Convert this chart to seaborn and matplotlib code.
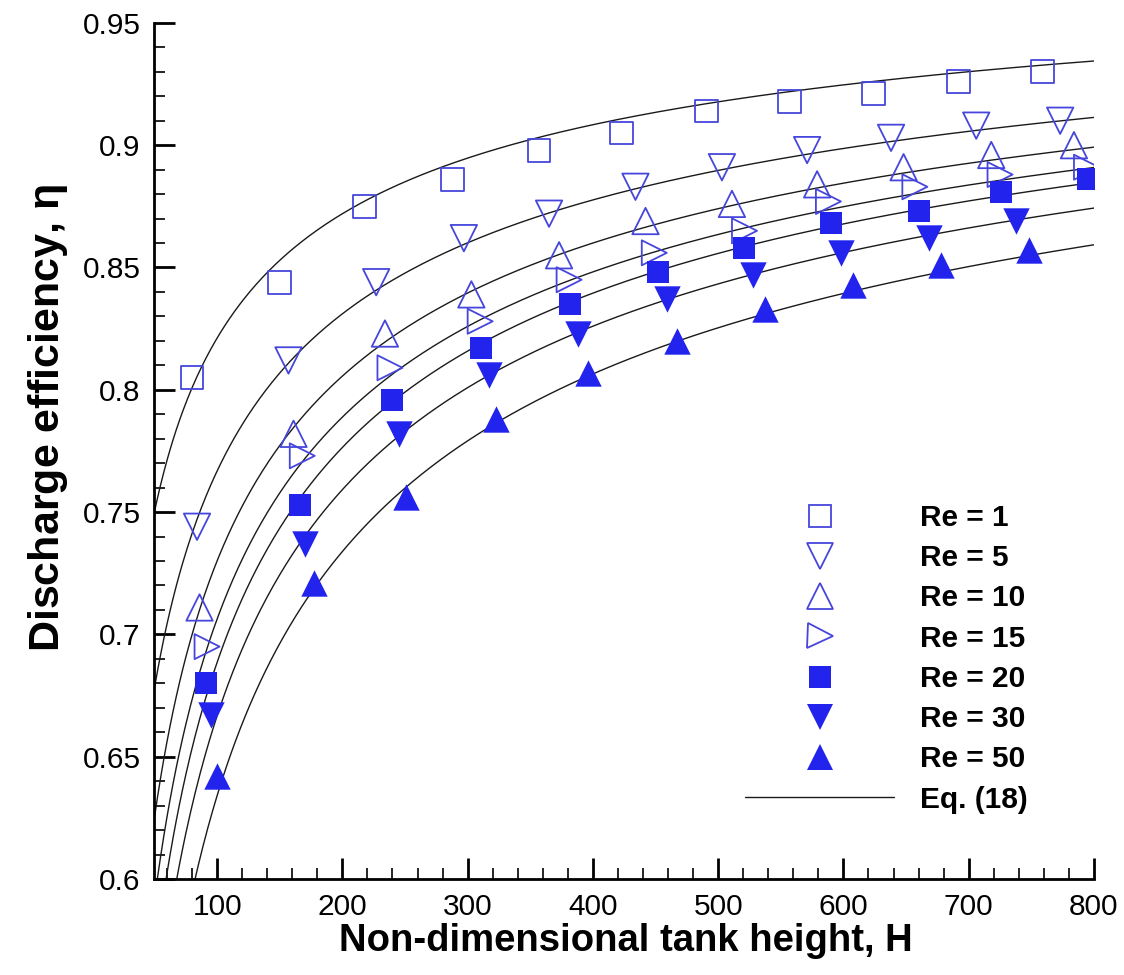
import numpy as np
import pandas as pd
import matplotlib
matplotlib.use("Agg")
import matplotlib.pyplot as plt
from matplotlib.lines import Line2D
from matplotlib.ticker import MultipleLocator
import seaborn as sns

sns.set_theme(style="ticks")
plt.rcParams["font.family"] = ["Liberation Sans", "DejaVu Sans"]
plt.rcParams["text.color"] = "black"
plt.rcParams["axes.labelcolor"] = "black"

# Measured discharge efficiency vs non-dimensional tank height, per Reynolds number
H_re1 = [80, 150, 218, 288, 357, 423, 491, 557, 624, 692, 759]
eta_re1 = [0.805, 0.844, 0.875, 0.886, 0.898, 0.905, 0.914, 0.918, 0.921, 0.926, 0.930]

H_re5 = [84, 157, 227, 297, 365, 434, 503, 571, 638, 706, 773]
eta_re5 = [0.744, 0.812, 0.844, 0.862, 0.872, 0.883, 0.891, 0.898, 0.903, 0.908, 0.910]

H_re10 = [86, 161, 234, 303, 373, 442, 511, 579, 648, 718, 784]
eta_re10 = [0.711, 0.782, 0.823, 0.839, 0.855, 0.869, 0.876, 0.884, 0.891, 0.896, 0.900]

H_re15 = [92, 168, 238, 310, 381, 449, 521, 588, 657, 725, 794]
eta_re15 = [0.695, 0.773, 0.809, 0.828, 0.845, 0.856, 0.865, 0.877, 0.883, 0.888, 0.891]

H_re20 = [91, 166, 240, 311, 382, 452, 521, 590, 660, 726, 795]
eta_re20 = [0.680, 0.753, 0.796, 0.817, 0.835, 0.848, 0.858, 0.868, 0.873, 0.881, 0.886]

H_re30 = [95, 170, 245, 317, 388, 459, 528, 598, 668, 738]
eta_re30 = [0.667, 0.737, 0.782, 0.806, 0.823, 0.837, 0.847, 0.856, 0.862, 0.869]

H_re50 = [100, 177, 251, 323, 396, 467, 537, 608, 678, 748]
eta_re50 = [0.642, 0.721, 0.756, 0.788, 0.807, 0.820, 0.833, 0.843, 0.851, 0.857]

re_labels = ["Re = 1", "Re = 5", "Re = 10", "Re = 15", "Re = 20", "Re = 30", "Re = 50"]

# Eq. (18): eta = 1 - c * H**(-p), one coefficient pair per Reynolds number
eq_c = [1.651, 1.988, 2.393, 2.634, 2.820, 2.890, 3.040]
eq_p = [0.4826, 0.4653, 0.4738, 0.4763, 0.4784, 0.4690, 0.4597]
eq_label = "Eq. (18)"

series_H = [H_re1, H_re5, H_re10, H_re15, H_re20, H_re30, H_re50]
series_eta = [eta_re1, eta_re5, eta_re10, eta_re15, eta_re20, eta_re30, eta_re50]

BLUE_FILL = "#2323EE"
BLUE_EDGE = "#4646DC"
styles = [
    dict(marker="s", ms=16.5, filled=False),
    dict(marker="v", ms=19, filled=False),
    dict(marker="^", ms=19, filled=False),
    dict(marker=">", ms=18, filled=False),
    dict(marker="s", ms=16, filled=True),
    dict(marker="v", ms=19, filled=True),
    dict(marker="^", ms=19, filled=True),
]

fig = plt.figure(figsize=(11.24, 9.75), dpi=100)
ax = fig.add_axes([0.1374, 0.0985, 0.8359, 0.878])

# Equation curves
H_grid = np.linspace(50, 800, 600)
curve_rows = []
for lab, c, p in zip(re_labels, eq_c, eq_p):
    curve_rows.append(pd.DataFrame({"H": H_grid, "eta": 1 - c * H_grid ** (-p), "Re": lab}))
curves = pd.concat(curve_rows, ignore_index=True)
sns.lineplot(data=curves, x="H", y="eta", units="Re", estimator=None,
             color="#1a1a1a", linewidth=1.0, ax=ax, legend=False)

# Measured points
handles = []
for lab, Hs, etas, st in zip(re_labels, series_H, series_eta, styles):
    df = pd.DataFrame({"H": Hs, "eta": etas})
    sns.scatterplot(data=df, x="H", y="eta", marker=st["marker"], s=st["ms"] ** 2,
                    color=BLUE_FILL, edgecolor=BLUE_FILL if st["filled"] else BLUE_EDGE,
                    linewidth=0.0 if st["filled"] else 1.3, ax=ax, legend=False, zorder=3)
    coll = ax.collections[-1]
    if not st["filled"]:
        coll.set_facecolor("none")
        coll.set_edgecolor(BLUE_EDGE)
    handles.append(Line2D([], [], linestyle="none", marker=st["marker"], markersize=st["ms"],
                          markerfacecolor=BLUE_FILL if st["filled"] else "none",
                          markeredgecolor=BLUE_FILL if st["filled"] else BLUE_EDGE,
                          markeredgewidth=0.0 if st["filled"] else 1.3, label=lab))
handles.append(Line2D([], [], color="#1a1a1a", linewidth=1.0, label=eq_label))

ax.set_xlim(50, 800)
ax.set_ylim(0.6, 0.95)
ax.xaxis.set_major_locator(MultipleLocator(100))
ax.xaxis.set_minor_locator(MultipleLocator(20))
ax.yaxis.set_major_locator(MultipleLocator(0.05))
ax.yaxis.set_minor_locator(MultipleLocator(0.01))
ax.set_yticks([0.6, 0.65, 0.7, 0.75, 0.8, 0.85, 0.9, 0.95])
ax.set_yticklabels(["0.6", "0.65", "0.7", "0.75", "0.8", "0.85", "0.9", "0.95"])
ax.set_xticks([100, 200, 300, 400, 500, 600, 700, 800])

sns.despine(ax=ax, top=True, right=True)
for side in ("left", "bottom"):
    ax.spines[side].set_linewidth(2.0)
    ax.spines[side].set_color("black")
ax.tick_params(which="major", direction="in", length=15, width=2.0, labelsize=21.5,
               pad=10, colors="black")
ax.tick_params(which="minor", direction="in", length=8, width=1.2, colors="black")

ax.set_xlabel("Non-dimensional tank height, H", fontsize=27.5, fontweight="bold")
ax.set_ylabel("Discharge efficiency, $\\mathregular{\\eta}$", fontsize=31, fontweight="bold")
ax.xaxis.set_label_coords(0.502, -0.051)
ax.yaxis.set_label_coords(-0.09, 0.5386)

leg = ax.legend(handles=handles, loc="upper left",
                bbox_to_anchor=(745 / 1124, 1 - 504 / 975), bbox_transform=fig.transFigure,
                frameon=False, borderpad=0, borderaxespad=0, handlelength=5.0,
                handletextpad=0.85, labelspacing=0.41, prop={"size": 21.5, "weight": "bold"})

fig.savefig("out.png", dpi=100, facecolor="white")
